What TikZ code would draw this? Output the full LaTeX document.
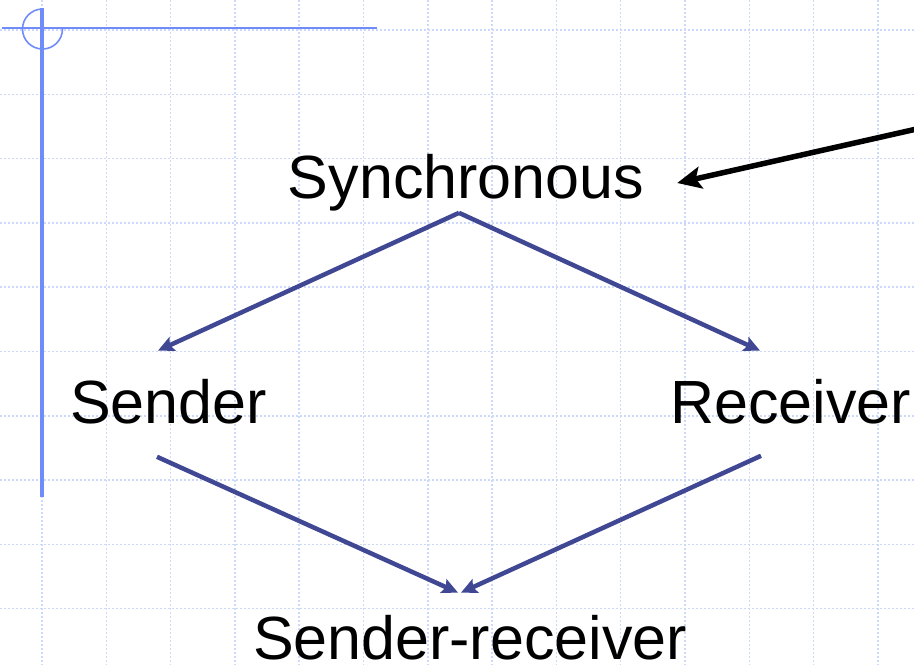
\documentclass[tikz,border=0pt]{standalone}
\usepackage{fontspec}
\setmainfont{Liberation Sans}
\usetikzlibrary{arrows.meta}
\definecolor{gridblue}{RGB}{205,217,250}
\definecolor{guideblue}{RGB}{112,140,248}
\definecolor{flowblue}{RGB}{64,72,148}

\begin{document}
\begin{tikzpicture}[x = 1pt, y = -1pt, >= stealth,
    word/.style = {inner sep = 0pt, anchor = base, font = \fontsize{61}{70}\selectfont},
    flow/.style = {draw = flowblue, line width = 4.5pt, -{Stealth[length = 16pt, width = 15pt, inset = 3pt]}}]
      \useasboundingbox (0, 0) rectangle (914, 665);
      % squared paper
      \foreach \k in {0, ..., 13}
        \draw[gridblue, line width = 1.5pt, dash pattern = on 2pt off 2pt] (42 + 64.3*\k, 0) -- (42 + 64.3*\k, 665);
      \foreach \k in {0, ..., 9}
        \draw[gridblue, line width = 1.5pt, dash pattern = on 2pt off 2pt] (0, 30 + 64.3*\k) -- (914, 30 + 64.3*\k);
      % margin marks
      \draw[guideblue, line width = 3.5pt] (42, 8) -- (42, 497);
      \draw[guideblue, line width = 2pt] (2, 28) -- (377, 28);
      \draw[guideblue, line width = 1.6pt] (62.5, 29) arc[start angle = 0, end angle = 270, radius = 20];
      % words
      \node[word] (sync) at (466, 198) {Synchronous};
      \node[word] (send) at (168.5, 423) {Sender};
      \node[word] (recv) at (790.5, 423) {Receiver};
      \node[word] (both) at (470, 659) {Sender-receiver};
      \coordinate (note) at (930, 126);
      % arrows
      \draw[flow] ([shift = {(-7, 2)}]sync.south) -- ([shift = {(-10.5, -28)}]send.north);
      \draw[flow] ([shift = {(-7, 2)}]sync.south) -- ([shift = {(-30.5, -28)}]recv.north);
      \draw[flow] ([shift = {(-11.5, 33)}]send.south) -- ([shift = {(-12, -22)}]both.north);
      \draw[flow] ([shift = {(-29.5, 32)}]recv.south) -- ([shift = {(-9, -22)}]both.north);
      \draw[line width = 5.5pt, -{Stealth[length = 24pt, width = 22pt, inset = 5pt]}] (note) -- ([shift = {(33, -15)}]sync.base east);
    \end{tikzpicture}
\end{document}
